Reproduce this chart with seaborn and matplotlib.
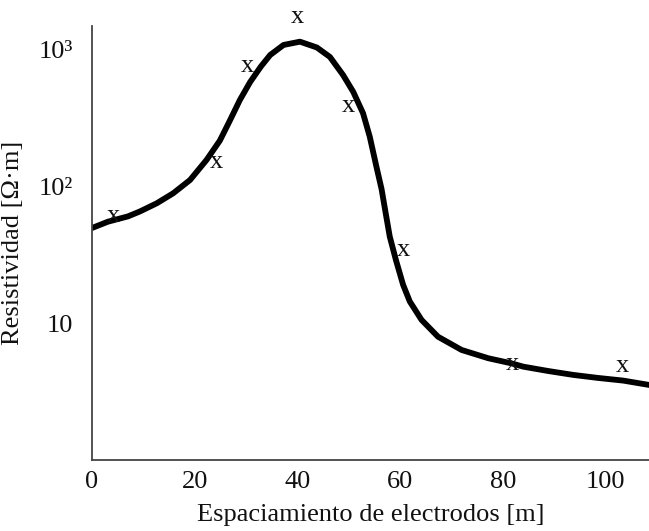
import numpy as np
import pandas as pd
import matplotlib
matplotlib.use("Agg")
import matplotlib.pyplot as plt
import seaborn as sns

# Apparent resistivity curve (electrode spacing in m, resistivity in ohm·m)
curve_spacing = [0.0, 3.1, 7.0, 9.3, 12.6, 15.8, 19.1, 22.3, 24.9, 26.9,
                 28.8, 30.8, 32.9, 34.7, 37.3, 40.5, 43.8, 46.35, 48.9, 50.9,
                 52.8, 54.1, 55.4, 56.4, 57.2, 58.0, 59.2, 60.6, 61.9, 64.2,
                 67.4, 72.0, 77.2, 81.7, 84.0, 88.8, 93.7, 98.5, 103.5, 108.5,
                 110.0]
curve_resistivity = [50.2, 55.8, 61.0, 66.2, 76.0, 89.9, 112.5, 157.4, 218.0, 308,
                     431.5, 583.6, 758, 919, 1088, 1150, 1043, 889, 657, 493.6,
                     345, 233, 140.7, 96.7, 64.6, 43.4, 29.3, 19.3, 14.6, 10.7,
                     8.07, 6.46, 5.62, 5.16, 4.88, 4.54, 4.25, 4.04, 3.86, 3.59,
                     3.5]

# Measured values
meas_spacing = [4.1, 24.3, 30.2, 40.1, 50.0, 60.6, 81.8, 103.4]
meas_resistivity = [61.4, 152, 764, 1741, 390, 34.7, 5.1, 4.93]

tick_x = [0, 20, 40, 60, 80, 100]
tick_y = [10, 100, 1000]
tick_y_labels = ["10", "10²", "10³"]

sns.set_style("white")
plt.rcParams["font.family"] = ["Liberation Serif", "DejaVu Serif"]

fig = plt.figure(figsize=(6.49, 5.31), dpi=100)
ax = fig.add_axes([0.1418, 0.1337, 0.8582, 0.8173])

df = pd.DataFrame({"spacing": curve_spacing, "rho": curve_resistivity})
sns.lineplot(data=df, x="spacing", y="rho", ax=ax, color="black",
             linewidth=4.2, sort=False)
for ln in ax.get_lines():
    ln.set_solid_capstyle("round")
    ln.set_solid_joinstyle("round")

for xs, ys in zip(meas_spacing, meas_resistivity):
    ax.text(xs, ys, "x", ha="center", va="center", fontsize=19,
            color="#111111")

ax.set_yscale("log")
ax.set_xlim(0, 108.5)
ax.set_ylim(10 ** 0.007, 10 ** 3.175)
ax.set_xticks(tick_x)
ax.set_xticklabels([str(t) for t in tick_x])
ax.set_yticks(tick_y)
ax.set_yticklabels(tick_y_labels)
ax.yaxis.set_minor_locator(matplotlib.ticker.NullLocator())

for side in ["top", "right"]:
    ax.spines[side].set_visible(False)
for side in ["left", "bottom"]:
    ax.spines[side].set_color("#444444")
    ax.spines[side].set_linewidth(1.3)

ax.tick_params(axis="both", direction="in", length=8, width=1.3,
               color="#444444", labelsize=19, labelcolor="#111111")
ax.tick_params(axis="x", pad=8)
ax.tick_params(axis="y", pad=14)

ax.set_xlabel("Espaciamiento de electrodos [m]", fontsize=19, labelpad=8,
              color="#111111")
ax.set_ylabel("Resistividad [Ω·m]", fontsize=19, labelpad=10,
              color="#111111")

fig.savefig("out.png", dpi=100)
